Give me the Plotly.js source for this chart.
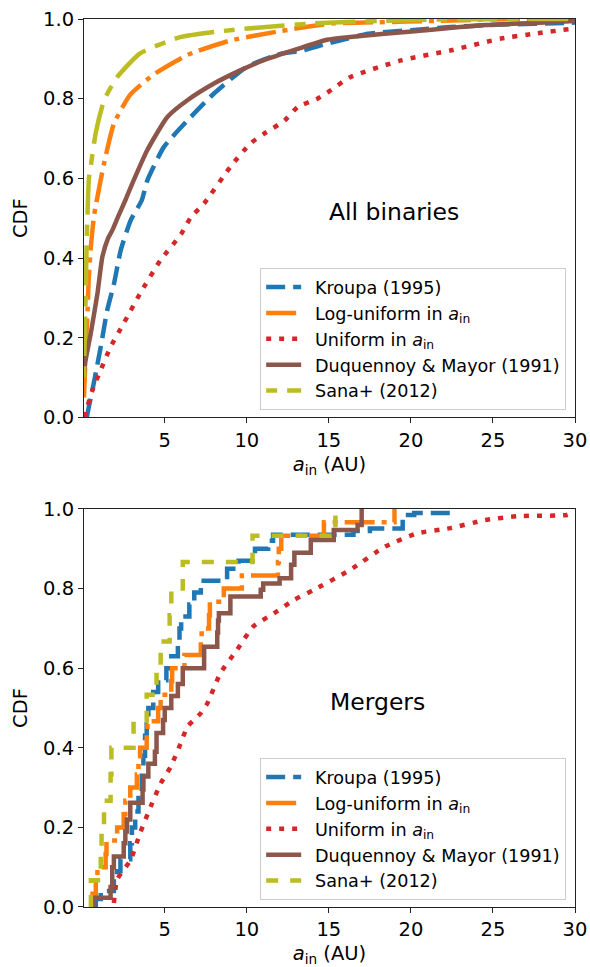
<!DOCTYPE html>
<html>
<head>
<meta charset="utf-8">
<script src="https://cdn.plot.ly/plotly-3.0.1.min.js"></script>
<style>html,body{margin:0;padding:0;background:#fff;}#chart{width:590px;height:967px;}</style>
</head>
<body>
<div id="chart"></div>
<script>
// ---------- Top panel: All binaries (smooth CDFs) ----------
const topKroupaX = [0.25, 0.38, 0.6, 0.79, 1.1, 1.5, 1.91, 2.32, 2.93, 3.6, 3.94, 4.95, 6.4, 8.0, 10.0, 12.1, 13.3, 14.9, 17.4, 20.0, 22.4, 25.5, 29.5, 30];
const topKroupaY = [0.0, 0.027, 0.07, 0.11, 0.177, 0.27, 0.336, 0.42, 0.495, 0.545, 0.595, 0.679, 0.746, 0.813, 0.88, 0.913, 0.92, 0.938, 0.963, 0.972, 0.98, 0.986, 0.99, 0.991];
const topLogX = [0.08, 0.2, 0.3, 0.37, 0.5, 0.67, 0.79, 1.3, 1.9, 2.9, 4.3, 6.4, 9.0, 12.1, 14.1, 15.3, 18, 21.4, 25, 30];
const topLogY = [0.05, 0.18, 0.27, 0.35, 0.43, 0.5, 0.53, 0.637, 0.737, 0.81, 0.86, 0.91, 0.946, 0.97, 0.983, 0.989, 0.992, 0.995, 0.999, 1.0];
const topUniX = [0.15, 0.29, 0.59, 1.1, 1.7, 2.5, 3.5, 4.75, 6.0, 6.6, 7.4, 9.0, 10.2, 11.05, 12.3, 13.1, 14.3, 14.9, 16.3, 19.4, 22.4, 25.5, 27.5, 29.9];
const topUniY = [0.0, 0.027, 0.068, 0.119, 0.177, 0.236, 0.311, 0.395, 0.46, 0.503, 0.537, 0.629, 0.687, 0.712, 0.745, 0.779, 0.8, 0.815, 0.854, 0.896, 0.921, 0.951, 0.963, 0.976];
const topDMX = [0.08, 0.18, 0.49, 0.9, 1.2, 1.55, 1.81, 2.15, 2.6, 2.93, 3.94, 5.16, 6.38, 8.0, 9.6, 11.0, 13.1, 14.9, 16.3, 20.4, 24.5, 27.5, 30];
const topDMY = [0.11, 0.144, 0.21, 0.311, 0.403, 0.45, 0.47, 0.503, 0.545, 0.578, 0.671, 0.754, 0.796, 0.838, 0.871, 0.896, 0.925, 0.948, 0.955, 0.97, 0.985, 0.99, 0.995];
const topSanaX = [0.08, 0.12, 0.18, 0.25, 0.38, 0.49, 0.79, 1.3, 2.1, 3.5, 6.0, 9.0, 14.1, 18, 22, 30];
const topSanaY = [0.1, 0.2, 0.3, 0.45, 0.6, 0.63, 0.713, 0.796, 0.854, 0.914, 0.955, 0.972, 0.989, 0.995, 0.999, 1.0];

// ---------- Bottom panel: Mergers (step CDFs) ----------
const botKroupaX = [0.8, 1.1, 1.9, 2.1, 2.3, 2.9, 3.0, 3.2, 3.4, 3.6, 3.7, 3.8, 3.9, 4.0, 4.3, 4.6, 5.1, 5.4, 5.8, 5.9, 6.0, 6.5, 6.8, 7.2, 8.8, 9.5, 10.5, 11.3, 11.6, 16.5, 17.5, 19.5, 20.2, 22.4];
const botKroupaY = [0.02, 0.04, 0.07, 0.09, 0.12, 0.16, 0.2, 0.24, 0.28, 0.33, 0.38, 0.43, 0.46, 0.5, 0.54, 0.57, 0.6, 0.63, 0.66, 0.7, 0.73, 0.76, 0.79, 0.82, 0.85, 0.87, 0.9, 0.92, 0.935, 0.945, 0.951, 0.985, 0.99, 1.0];
const botLogX = [0.6, 0.8, 0.9, 1.4, 1.45, 2.1, 2.5, 2.6, 2.9, 3.3, 3.4, 3.5, 3.9, 3.95, 4.6, 4.75, 5.4, 5.45, 6.2, 7.2, 7.25, 7.7, 7.75, 8.6, 9.7, 11.9, 11.95, 12.1, 14.7, 19.0];
const botLogY = [0.033, 0.067, 0.1, 0.133, 0.167, 0.2, 0.233, 0.267, 0.3, 0.333, 0.367, 0.4, 0.433, 0.467, 0.5, 0.533, 0.567, 0.6, 0.633, 0.667, 0.7, 0.733, 0.767, 0.8, 0.833, 0.867, 0.9, 0.933, 0.967, 1.0];
const botUniX = [1.9, 2.1, 2.93, 3.5, 4.15, 4.76, 5.37, 5.98, 6.38, 7.2, 7.6, 8.4, 9.4, 10.4, 11.65, 12.9, 14.1, 16.3, 18.4, 20.4, 22.4, 24.5, 26.5, 29.5, 30];
const botUniY = [0.01, 0.069, 0.119, 0.186, 0.253, 0.311, 0.353, 0.412, 0.453, 0.487, 0.512, 0.588, 0.646, 0.705, 0.738, 0.772, 0.797, 0.847, 0.905, 0.939, 0.952, 0.972, 0.982, 0.985, 0.993];
const botDMX = [0.7, 1.7, 1.8, 1.9, 2.5, 2.6, 2.7, 2.9, 3.65, 3.7, 4.0, 4.4, 4.5, 4.9, 5.0, 5.4, 5.8, 6.1, 7.4, 8.2, 8.25, 8.3, 9.0, 10.85, 11.0, 12.0, 12.7, 12.9, 13.9, 15.3, 16.75, 17.0];
const botDMY = [0.023, 0.05, 0.1, 0.127, 0.16, 0.19, 0.22, 0.262, 0.295, 0.328, 0.36, 0.39, 0.437, 0.47, 0.5, 0.53, 0.56, 0.6, 0.654, 0.69, 0.72, 0.738, 0.78, 0.797, 0.813, 0.826, 0.86, 0.89, 0.922, 0.947, 0.96, 1.0];
const botSanaX = [0.5, 1.1, 1.15, 1.3, 1.7, 1.75, 3.1, 3.9, 4.5, 4.75, 5.3, 5.4, 6.1, 10.35, 15.4];
const botSanaY = [0.067, 0.133, 0.2, 0.267, 0.333, 0.4, 0.467, 0.533, 0.6, 0.667, 0.733, 0.8, 0.867, 0.933, 1.0];

const names = ['Kroupa (1995)', 'Log-uniform in <i>a</i><sub>in</sub>', 'Uniform in <i>a</i><sub>in</sub>', 'Duquennoy &amp; Mayor (1991)', 'Sana+ (2012)'];
const colors = ['#1f77b4', '#ff7f0e', '#d62728', '#8c564b', '#bcbd22'];
const dashesTop = ['19px,8px', '30px,7px,5px,7px', '5px,8px', 'solid', '11px,10px,40px,10px'];
const dashesBot = ['19px,8px', '30px,7px,5px,7px', '5px,8px', 'solid', '12px,12px'];
const W = 4.5;

function withStart(xs, ys) { return {x: [xs[0]].concat(xs), y: [0].concat(ys)}; }

const topSets = [[topKroupaX, topKroupaY], [topLogX, topLogY], [topUniX, topUniY], [topDMX, topDMY], [topSanaX, topSanaY]];
const botSets = [[botKroupaX, botKroupaY], [botLogX, botLogY], [botUniX, botUniY], [botDMX, botDMY], [botSanaX, botSanaY]];

const traces = [];
topSets.forEach((s, i) => {
  traces.push({x: s[0], y: s[1], type: 'scatter', mode: 'lines', name: '\u2002' + names[i], legend: 'legend',
    line: {color: colors[i], width: W, dash: dashesTop[i], shape: 'spline', smoothing: 0.5}, xaxis: 'x', yaxis: 'y', hoverinfo: 'skip'});
});
botSets.forEach((s, i) => {
  const isStep = i !== 2;
  const d = isStep ? withStart(s[0], s[1]) : {x: s[0], y: s[1]};
  traces.push({x: d.x, y: d.y, type: 'scatter', mode: 'lines', name: '\u2002' + names[i], legend: 'legend2',
    line: {color: colors[i], width: W, dash: dashesBot[i], shape: isStep ? 'hv' : 'spline', smoothing: 0.5}, xaxis: 'x2', yaxis: 'y2', hoverinfo: 'skip'});
});

const FONT = 'DejaVu Sans, sans-serif';
const axisBase = {
  showline: true, mirror: true, linecolor: '#222', linewidth: 1, showgrid: false, zeroline: false,
  ticks: 'outside', ticklen: 5, tickwidth: 1, tickcolor: '#222',
  tickfont: {family: FONT, size: 19.5, color: '#000'}
};
const xTitle = {text: '<i>a</i><sub>in</sub> (AU)', font: {family: FONT, size: 19.5, color: '#000'}, standoff: 6};
const yTitle = {text: 'CDF', font: {family: FONT, size: 19.5, color: '#000'}, standoff: 10};

const legendBase = {
  xref: 'paper', yref: 'paper', xanchor: 'right', yanchor: 'bottom',
  bgcolor: 'rgba(255,255,255,0.8)', bordercolor: '#cccccc', borderwidth: 1,
  font: {family: FONT, size: 17.6, color: '#000'}, itemwidth: 35
};

const layout = {
  width: 590, height: 967,
  margin: {l: 83.5, r: 15, t: 18.7, b: 59.7},
  paper_bgcolor: '#fff', plot_bgcolor: '#fff',
  showlegend: true,
  xaxis: Object.assign({}, axisBase, {domain: [0, 1], range: [0.08, 30], tickvals: [5, 10, 15, 20, 25, 30], anchor: 'y', title: xTitle}),
  yaxis: Object.assign({}, axisBase, {domain: [0.5514, 1], range: [0, 1], tickvals: [0, 0.2, 0.4, 0.6, 0.8, 1.0], ticktext: ['0.0', '0.2', '0.4', '0.6', '0.8', '1.0'], anchor: 'x', title: yTitle}),
  xaxis2: Object.assign({}, axisBase, {domain: [0, 1], range: [0.08, 30], tickvals: [5, 10, 15, 20, 25, 30], anchor: 'y2', title: xTitle}),
  yaxis2: Object.assign({}, axisBase, {domain: [0, 0.4482], range: [0, 1], tickvals: [0, 0.2, 0.4, 0.6, 0.8, 1.0], ticktext: ['0.0', '0.2', '0.4', '0.6', '0.8', '1.0'], anchor: 'x2', title: yTitle}),
  legend: Object.assign({}, legendBase, {x: 0.982, y: 0.5596}),
  legend2: Object.assign({}, legendBase, {x: 0.982, y: 0.0078}),
  annotations: [
    {text: 'All binaries', x: 18.96, y: 0.515, xref: 'x', yref: 'y', showarrow: false, font: {family: FONT, size: 23.5, color: '#000'}},
    {text: 'Mergers', x: 17.96, y: 0.515, xref: 'x2', yref: 'y2', showarrow: false, font: {family: FONT, size: 23.5, color: '#000'}}
  ]
};

Plotly.newPlot('chart', traces, layout, {staticPlot: true, displayModeBar: false});
</script>
</body>
</html>
